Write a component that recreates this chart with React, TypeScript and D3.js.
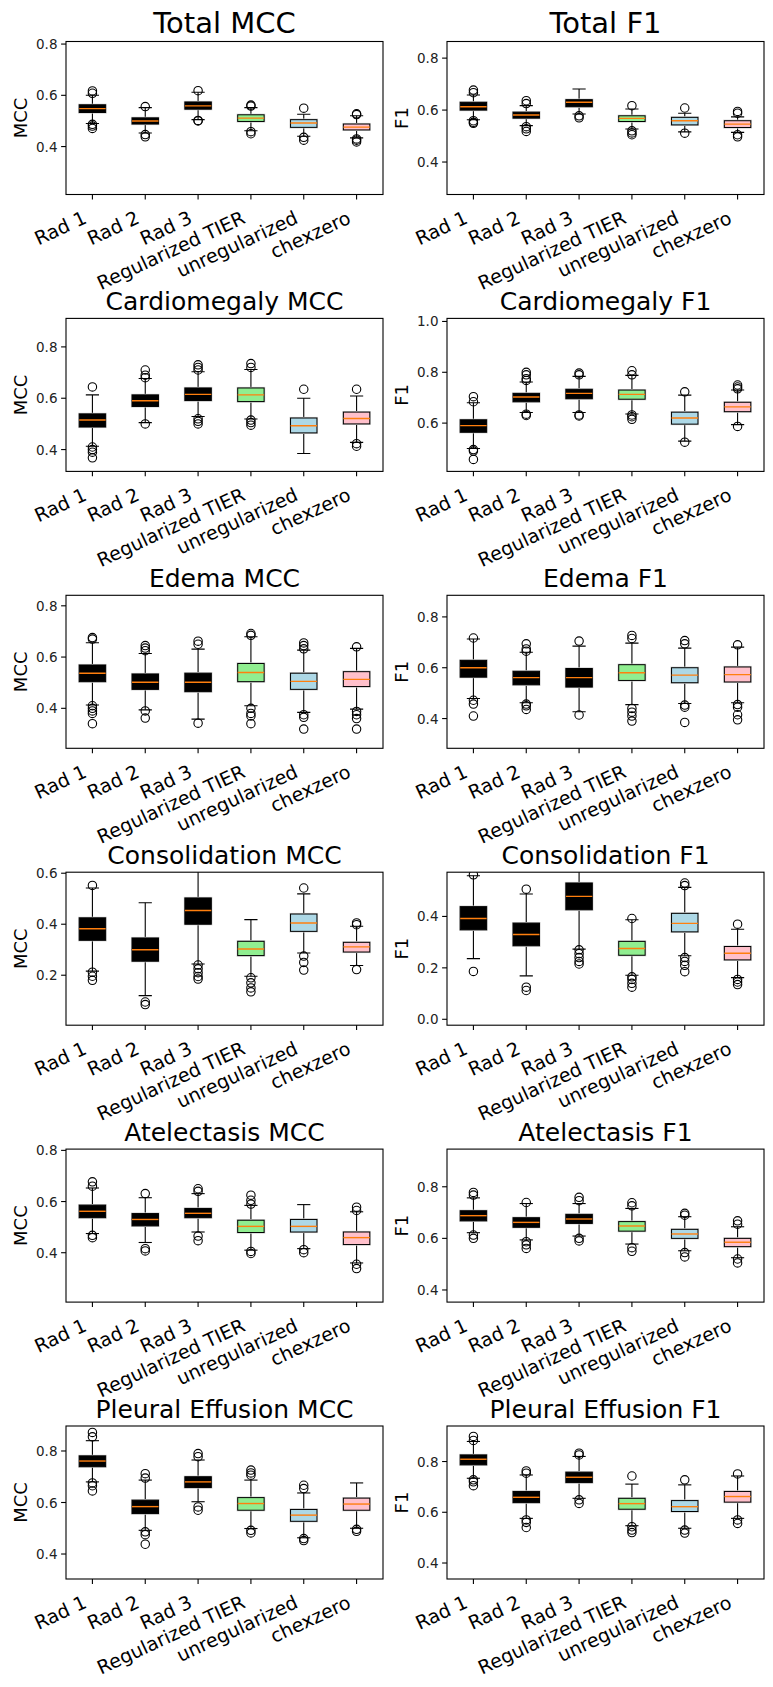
import React from "react";
import * as d3 from "d3";

type Stat = [number, number, number, number, number]; // whiskerLo, q1, median, q3, whiskerHi

const CATEGORIES = ["Rad 1", "Rad 2", "Rad 3", "Regularized TIER", "unregularized", "chexzero"];
const BOX_COLORS = ["black", "black", "black", "lightgreen", "lightblue", "pink"];
const MEDIAN_COLOR = "#ff7f0e";

// ---- Total ----
const totalMccStats: Stat[] = [
  [0.49, 0.533, 0.548, 0.563, 0.6],
  [0.453, 0.488, 0.5, 0.512, 0.552],
  [0.505, 0.546, 0.559, 0.574, 0.612],
  [0.462, 0.498, 0.511, 0.524, 0.552],
  [0.44, 0.475, 0.492, 0.505, 0.526],
  [0.434, 0.465, 0.476, 0.488, 0.52],
];
const totalMccOutliers: number[][] = [
  [0.617, 0.608, 0.487, 0.48, 0.471],
  [0.556, 0.447, 0.438],
  [0.618, 0.5, 0.502],
  [0.562, 0.558, 0.458, 0.45],
  [0.55, 0.436, 0.425],
  [0.528, 0.525, 0.43, 0.425, 0.418],
];
const totalF1Stats: Stat[] = [
  [0.563, 0.6, 0.613, 0.63, 0.658],
  [0.54, 0.569, 0.581, 0.592, 0.617],
  [0.585, 0.613, 0.63, 0.64, 0.681],
  [0.527, 0.556, 0.568, 0.578, 0.604],
  [0.516, 0.543, 0.559, 0.572, 0.588],
  [0.514, 0.533, 0.546, 0.559, 0.574],
];
const totalF1Outliers: number[][] = [
  [0.677, 0.667, 0.559, 0.553, 0.549],
  [0.636, 0.625, 0.536, 0.528, 0.518],
  [0.578, 0.57],
  [0.617, 0.52, 0.512, 0.505],
  [0.608, 0.511],
  [0.595, 0.588, 0.505, 0.497],
];

// ---- Cardiomegaly ----
const cardioMccStats: Stat[] = [
  [0.413, 0.488, 0.515, 0.539, 0.613],
  [0.505, 0.568, 0.59, 0.613, 0.677],
  [0.529, 0.591, 0.615, 0.64, 0.703],
  [0.519, 0.587, 0.613, 0.64, 0.712],
  [0.385, 0.465, 0.493, 0.523, 0.6],
  [0.428, 0.5, 0.521, 0.546, 0.609],
];
const cardioMccOutliers: number[][] = [
  [0.644, 0.41, 0.4, 0.39, 0.368],
  [0.71, 0.69, 0.68, 0.5],
  [0.73, 0.72, 0.71, 0.52, 0.51, 0.5],
  [0.735, 0.72, 0.515, 0.505, 0.495],
  [0.635],
  [0.635, 0.423, 0.413],
];
const cardioF1Stats: Stat[] = [
  [0.5, 0.564, 0.59, 0.613, 0.68],
  [0.642, 0.684, 0.703, 0.717, 0.762],
  [0.642, 0.696, 0.717, 0.733, 0.784],
  [0.636, 0.694, 0.713, 0.73, 0.788],
  [0.529, 0.596, 0.62, 0.643, 0.71],
  [0.594, 0.645, 0.664, 0.682, 0.73],
];
const cardioF1Outliers: number[][] = [
  [0.704, 0.684, 0.496, 0.49, 0.457],
  [0.8, 0.79, 0.775, 0.768, 0.635, 0.63],
  [0.797, 0.79, 0.632, 0.628],
  [0.806, 0.79, 0.632, 0.625, 0.615],
  [0.723, 0.525],
  [0.75, 0.742, 0.735, 0.587],
];

// ---- Edema ----
const edemaMccStats: Stat[] = [
  [0.413, 0.504, 0.537, 0.569, 0.656],
  [0.394, 0.474, 0.502, 0.534, 0.614],
  [0.358, 0.465, 0.502, 0.537, 0.631],
  [0.41, 0.504, 0.54, 0.575, 0.679],
  [0.384, 0.474, 0.505, 0.537, 0.627],
  [0.397, 0.485, 0.513, 0.543, 0.634],
];
const edemaMccOutliers: number[][] = [
  [0.676, 0.67, 0.41, 0.4, 0.39, 0.38, 0.34],
  [0.645, 0.635, 0.625, 0.39, 0.362],
  [0.662, 0.65, 0.342],
  [0.692, 0.685, 0.4, 0.38, 0.37, 0.34],
  [0.655, 0.645, 0.632, 0.375, 0.365, 0.319],
  [0.64, 0.388, 0.375, 0.36, 0.319],
];
const edemaF1Stats: Stat[] = [
  [0.479, 0.563, 0.6, 0.629, 0.713],
  [0.462, 0.533, 0.561, 0.586, 0.661],
  [0.427, 0.524, 0.561, 0.597, 0.685],
  [0.455, 0.55, 0.58, 0.612, 0.697],
  [0.459, 0.541, 0.571, 0.6, 0.677],
  [0.462, 0.544, 0.573, 0.603, 0.681],
];
const edemaF1Outliers: number[][] = [
  [0.717, 0.472, 0.457, 0.41],
  [0.694, 0.674, 0.665, 0.457, 0.45, 0.436],
  [0.705, 0.414],
  [0.727, 0.715, 0.44, 0.425, 0.41, 0.39],
  [0.707, 0.694, 0.453, 0.445, 0.385],
  [0.69, 0.455, 0.445, 0.415, 0.395],
];

// ---- Consolidation ----
const consMccStats: Stat[] = [
  [0.216, 0.337, 0.382, 0.425, 0.542],
  [0.12, 0.255, 0.3, 0.346, 0.484],
  [0.244, 0.4, 0.454, 0.503, 0.66],
  [0.196, 0.277, 0.303, 0.333, 0.418],
  [0.287, 0.372, 0.405, 0.44, 0.519],
  [0.238, 0.291, 0.311, 0.329, 0.392],
];
const consMccOutliers: number[][] = [
  [0.552, 0.212, 0.196, 0.18],
  [0.095, 0.085],
  [0.24, 0.225, 0.21, 0.195, 0.185],
  [0.19, 0.17, 0.15, 0.135],
  [0.542, 0.275, 0.25, 0.22],
  [0.405, 0.398, 0.222],
];
const consF1Stats: Stat[] = [
  [0.236, 0.348, 0.392, 0.438, 0.558],
  [0.169, 0.286, 0.33, 0.374, 0.487],
  [0.273, 0.426, 0.478, 0.53, 0.64],
  [0.171, 0.249, 0.275, 0.303, 0.387],
  [0.247, 0.34, 0.373, 0.412, 0.513],
  [0.162, 0.231, 0.257, 0.283, 0.35],
];
const consF1Outliers: number[][] = [
  [0.562, 0.186],
  [0.506, 0.125, 0.112],
  [0.27, 0.255, 0.24, 0.225, 0.215],
  [0.392, 0.165, 0.155, 0.14, 0.125],
  [0.53, 0.52, 0.24, 0.225, 0.21, 0.185],
  [0.37, 0.155, 0.145, 0.135],
];

// ---- Atelectasis ----
const atelMccStats: Stat[] = [
  [0.475, 0.537, 0.562, 0.586, 0.653],
  [0.44, 0.505, 0.53, 0.553, 0.615],
  [0.481, 0.537, 0.554, 0.573, 0.631],
  [0.41, 0.479, 0.503, 0.527, 0.585],
  [0.416, 0.481, 0.503, 0.53, 0.588],
  [0.36, 0.432, 0.459, 0.481, 0.56],
];
const atelMccOutliers: number[][] = [
  [0.677, 0.66, 0.468, 0.459],
  [0.631, 0.416, 0.407],
  [0.65, 0.64, 0.465, 0.447],
  [0.625, 0.605, 0.59, 0.405, 0.397],
  [0.412, 0.4],
  [0.578, 0.565, 0.355, 0.338],
];
const atelF1Stats: Stat[] = [
  [0.622, 0.668, 0.688, 0.707, 0.757],
  [0.594, 0.643, 0.662, 0.68, 0.735],
  [0.609, 0.658, 0.675, 0.693, 0.735],
  [0.578, 0.628, 0.648, 0.665, 0.716],
  [0.552, 0.6, 0.617, 0.635, 0.684],
  [0.525, 0.568, 0.585, 0.6, 0.645],
];
const atelF1Outliers: number[][] = [
  [0.778, 0.768, 0.613, 0.6],
  [0.739, 0.587, 0.575, 0.561],
  [0.759, 0.746, 0.6, 0.59],
  [0.738, 0.726, 0.564, 0.55],
  [0.697, 0.69, 0.545, 0.528],
  [0.668, 0.655, 0.52, 0.505],
];

// ---- Pleural Effusion ----
const pleuralMccStats: Stat[] = [
  [0.68, 0.739, 0.761, 0.781, 0.84],
  [0.492, 0.557, 0.584, 0.609, 0.687],
  [0.603, 0.658, 0.68, 0.7, 0.765],
  [0.499, 0.57, 0.596, 0.619, 0.687],
  [0.463, 0.527, 0.551, 0.573, 0.637],
  [0.5, 0.57, 0.594, 0.617, 0.676],
];
const pleuralMccOutliers: number[][] = [
  [0.872, 0.855, 0.676, 0.665, 0.645],
  [0.712, 0.695, 0.486, 0.475, 0.438],
  [0.79, 0.778, 0.583, 0.57],
  [0.726, 0.715, 0.706, 0.492, 0.482],
  [0.667, 0.654, 0.46, 0.452],
  [0.496, 0.488],
];
const pleuralF1Stats: Stat[] = [
  [0.734, 0.787, 0.809, 0.826, 0.879],
  [0.576, 0.638, 0.659, 0.682, 0.747],
  [0.655, 0.717, 0.738, 0.758, 0.82],
  [0.547, 0.612, 0.634, 0.655, 0.711],
  [0.537, 0.603, 0.622, 0.646, 0.708],
  [0.576, 0.64, 0.662, 0.682, 0.743],
];
const pleuralF1Outliers: number[][] = [
  [0.899, 0.883, 0.728, 0.72, 0.705],
  [0.763, 0.754, 0.57, 0.56, 0.54],
  [0.833, 0.826, 0.649, 0.635],
  [0.743, 0.543, 0.53, 0.52],
  [0.728, 0.53, 0.518],
  [0.751, 0.57, 0.556],
];

const PANEL_TITLES = [
  "Total MCC", "Total F1",
  "Cardiomegaly MCC", "Cardiomegaly F1",
  "Edema MCC", "Edema F1",
  "Consolidation MCC", "Consolidation F1",
  "Atelectasis MCC", "Atelectasis F1",
  "Pleural Effusion MCC", "Pleural Effusion F1",
];
const Y_LABELS = ["MCC", "F1"];
const Y_DOMAINS: [number, number][] = [
  [0.213, 0.81], [0.275, 0.864],
  [0.315, 0.911], [0.41, 1.012],
  [0.244, 0.841], [0.283, 0.885],
  [0.004, 0.604], [-0.023, 0.572],
  [0.207, 0.805], [0.353, 0.946],
  [0.303, 0.897], [0.337, 0.94],
];
const Y_TICKS: number[][] = [
  [0.4, 0.6, 0.8], [0.4, 0.6, 0.8],
  [0.4, 0.6, 0.8], [0.6, 0.8, 1.0],
  [0.4, 0.6, 0.8], [0.4, 0.6, 0.8],
  [0.2, 0.4, 0.6], [0.0, 0.2, 0.4],
  [0.4, 0.6, 0.8], [0.4, 0.6, 0.8],
  [0.4, 0.6, 0.8], [0.4, 0.6, 0.8],
];
const PANEL_STATS = [
  totalMccStats, totalF1Stats, cardioMccStats, cardioF1Stats, edemaMccStats, edemaF1Stats,
  consMccStats, consF1Stats, atelMccStats, atelF1Stats, pleuralMccStats, pleuralF1Stats,
];
const PANEL_OUTLIERS = [
  totalMccOutliers, totalF1Outliers, cardioMccOutliers, cardioF1Outliers, edemaMccOutliers, edemaF1Outliers,
  consMccOutliers, consF1Outliers, atelMccOutliers, atelF1Outliers, pleuralMccOutliers, pleuralF1Outliers,
];

const W = 773;
const H = 1687;
const COL_LEFT = [66, 447];
const AX_W = 317;
const AX_H = 153;
const ROW_TOP0 = 41.5;
const ROW_STEP = 276.9;
const FONT = "DejaVu Sans, sans-serif";
const fmt = d3.format(".1f");

function Panel({ idx }: { idx: number }) {
  const row = Math.floor(idx / 2);
  const col = idx % 2;
  const left = COL_LEFT[col];
  const top = ROW_TOP0 + row * ROW_STEP;
  const bottom = top + AX_H;
  const x = d3.scaleLinear().domain([0.5, CATEGORIES.length + 0.5]).range([left, left + AX_W]);
  const y = d3.scaleLinear().domain(Y_DOMAINS[idx]).range([bottom, top]);
  const stats = PANEL_STATS[idx];
  const outs = PANEL_OUTLIERS[idx];
  const boxW = x(1.25) - x(0.75);
  const capW = x(1.125) - x(0.875);
  const clipId = `clip-${idx}`;
  const titleSize = row === 0 ? 29 : 25;

  return (
    <g>
      <defs>
        <clipPath id={clipId}>
          <rect x={left} y={top} width={AX_W} height={AX_H} />
        </clipPath>
      </defs>
      <g clipPath={`url(#${clipId})`}>
        {stats.map((s, i) => {
          const cx = x(i + 1);
          const [wlo, q1, med, q3, whi] = s;
          return (
            <g key={i}>
              <line x1={cx} x2={cx} y1={y(q3)} y2={y(whi)} stroke="black" strokeWidth={1.1} />
              <line x1={cx} x2={cx} y1={y(q1)} y2={y(wlo)} stroke="black" strokeWidth={1.1} />
              <line x1={cx - capW / 2} x2={cx + capW / 2} y1={y(whi)} y2={y(whi)} stroke="black" strokeWidth={1.1} />
              <line x1={cx - capW / 2} x2={cx + capW / 2} y1={y(wlo)} y2={y(wlo)} stroke="black" strokeWidth={1.1} />
              <rect
                x={cx - boxW / 2}
                y={y(q3)}
                width={boxW}
                height={y(q1) - y(q3)}
                fill={BOX_COLORS[i]}
                stroke="#cfcfcf"
                strokeWidth={2.2}
              />
              <rect
                x={cx - boxW / 2}
                y={y(q3)}
                width={boxW}
                height={y(q1) - y(q3)}
                fill={BOX_COLORS[i]}
                stroke="black"
                strokeWidth={1}
              />
              <line x1={cx - boxW / 2} x2={cx + boxW / 2} y1={y(med)} y2={y(med)} stroke={MEDIAN_COLOR} strokeWidth={1.4} />
              {outs[i].map((v, j) => (
                <circle key={j} cx={cx} cy={y(v)} r={4.2} fill="none" stroke="black" strokeWidth={1.1} />
              ))}
            </g>
          );
        })}
      </g>
      <rect x={left} y={top} width={AX_W} height={AX_H} fill="none" stroke="black" strokeWidth={1.1} />
      {Y_TICKS[idx].map((t) => (
        <g key={t}>
          <line x1={left - 4.9} x2={left} y1={y(t)} y2={y(t)} stroke="black" strokeWidth={1.1} />
          <text
            x={left - 8.5}
            y={y(t)}
            textAnchor="end"
            dominantBaseline="central"
            fontFamily={FONT}
            fontSize={13.5}
            fill="#222"
          >
            {fmt(t)}
          </text>
        </g>
      ))}
      {CATEGORIES.map((c, i) => {
        const cx = x(i + 1);
        return (
          <g key={c}>
            <line x1={cx} x2={cx} y1={bottom} y2={bottom + 4.9} stroke="black" strokeWidth={1.1} />
            <text
              transform={`translate(${cx - 4.5},${bottom + 28}) rotate(-25)`}
              textAnchor="end"
              fontFamily={FONT}
              fontSize={19}
              fill="black"
            >
              {c}
            </text>
          </g>
        );
      })}
      <text
        transform={`translate(${left - 46},${top + AX_H / 2}) rotate(-90)`}
        textAnchor="middle"
        dominantBaseline="central"
        fontFamily={FONT}
        fontSize={18}
        fill="black"
      >
        {Y_LABELS[col]}
      </text>
      <text
        x={left + AX_W / 2}
        y={top - 8.5}
        textAnchor="middle"
        fontFamily={FONT}
        fontSize={titleSize}
        fill="black"
      >
        {PANEL_TITLES[idx]}
      </text>
    </g>
  );
}

export default function App() {
  return (
    <svg
      width={W}
      height={H}
      viewBox={`0 0 ${W} ${H}`}
      style={{ position: "absolute", left: 0, top: 0, background: "white" }}
    >
      <rect x={0} y={0} width={W} height={H} fill="white" />
      {PANEL_TITLES.map((_, i) => (
        <Panel key={i} idx={i} />
      ))}
    </svg>
  );
}
